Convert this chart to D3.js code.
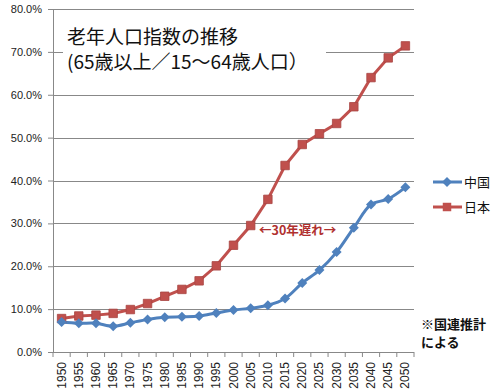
<!DOCTYPE html>
<html>
<head>
<meta charset="utf-8">
<script src="https://cdn.jsdelivr.net/npm/d3@7"></script>
<style>
body { margin: 0; background: #fff; }
svg { display: block; }
</style>
</head>
<body>
<div id="chart"></div>
<script>
var years = [1950, 1955, 1960, 1965, 1970, 1975, 1980, 1985, 1990, 1995, 2000,
             2005, 2010, 2015, 2020, 2025, 2030, 2035, 2040, 2045, 2050];
var china = [7.0, 6.7, 6.7, 6.0, 6.8, 7.6, 8.1, 8.2, 8.4, 9.1, 9.8,
             10.2, 10.9, 12.5, 16.1, 19.1, 23.3, 29.0, 34.4, 35.7, 38.4];
var japan = [7.8, 8.4, 8.6, 9.0, 9.9, 11.3, 13.0, 14.6, 16.6, 20.1, 24.9,
             29.5, 35.6, 43.5, 48.4, 50.9, 53.3, 57.2, 64.0, 68.6, 71.4];
var yTicks = [0, 10, 20, 30, 40, 50, 60, 70, 80];
var seriesNames = ['中国', '日本'];
var titleLines = ['老年人口指数の推移', '(65歳以上／15～64歳人口）'];

var W = 491, H = 391;
var pLeft = 53, pRight = 414, pTop = 9, pBottom = 352;
var blue = '#4F81BD', red = '#C0504D', grid = '#888';

var svg = d3.select('#chart').append('svg')
    .attr('width', W)
    .attr('height', H);

var x = d3.scaleBand().domain(years).range([pLeft, pRight]);
var y = d3.scaleLinear().domain([0, 80]).range([pBottom, pTop]);

// gridlines
svg.append('g')
    .selectAll('line')
    .data(yTicks.slice(1))
    .enter().append('line')
        .attr('x1', pLeft).attr('x2', pRight)
        .attr('y1', d => Math.round(y(d)) + 0.5).attr('y2', d => Math.round(y(d)) + 0.5)
        .attr('stroke', grid).attr('stroke-width', 1);

// y axis
var yAxis = svg.append('g')
    .attr('transform', 'translate(' + pLeft + ',0)')
    .call(d3.axisLeft(y).tickValues(yTicks).tickSize(5).tickPadding(6)
        .tickFormat(d => d.toFixed(1) + '%'));
yAxis.select('.domain').attr('stroke', grid);
yAxis.selectAll('.tick line').attr('stroke', grid);
yAxis.selectAll('text')
    .attr('font-family', 'Liberation Sans, Arial, sans-serif')
    .attr('font-size', 11).attr('fill', '#222');

// x axis: ticks at category boundaries
var xa = svg.append('g').attr('class', 'xaxis');
xa.append('line')
    .attr('x1', pLeft).attr('x2', pRight)
    .attr('y1', pBottom + 0.5).attr('y2', pBottom + 0.5)
    .attr('stroke', grid);
xa.selectAll('line.tk')
    .data(years.concat(['end']))
    .enter().append('line')
        .attr('class', 'tk')
        .attr('x1', d => d === 'end' ? pRight : x(d))
        .attr('x2', d => d === 'end' ? pRight : x(d))
        .attr('y1', pBottom).attr('y2', pBottom + 5)
        .attr('stroke', grid);
xa.selectAll('text')
    .data(years)
    .enter().append('text')
        .attr('transform', d => 'translate(' + (x(d) + x.bandwidth() / 2 + 4) + ',' + (pBottom + 10) + ') rotate(-90)')
        .attr('text-anchor', 'end')
        .attr('font-family', 'Liberation Sans, Arial, sans-serif')
        .attr('font-size', 12).attr('fill', '#222')
        .text(d => d);

var cx = d => x(d) + x.bandwidth() / 2;

// title box
svg.append('rect')
    .attr('x', 63).attr('y', 16).attr('width', 263).attr('height', 62)
    .attr('fill', '#fff');
svg.append('g').selectAll('text')
    .data(titleLines)
    .enter().append('text')
        .attr('x', 67)
        .attr('y', (d, i) => 44 + i * 25)
        .attr('font-family', 'Noto Sans CJK JP, sans-serif')
        .attr('font-size', 19).attr('fill', '#111')
        .text(d => d);

// lines
var lineJ = d3.line().x((d, i) => cx(years[i])).y(d => y(d));
var lineC = d3.line().x((d, i) => cx(years[i])).y(d => y(d)).curve(d3.curveCatmullRom);

svg.append('path').datum(japan)
    .attr('d', lineJ).attr('fill', 'none')
    .attr('stroke', red).attr('stroke-width', 3);
svg.append('path').datum(china)
    .attr('d', lineC).attr('fill', 'none')
    .attr('stroke', blue).attr('stroke-width', 3);

var square = d3.symbol().type(d3.symbolSquare).size(72);
var diamond = function (s) {
    return 'M0,' + (-s) + 'L' + s + ',0L0,' + s + 'L' + (-s) + ',0Z';
};

svg.append('g').selectAll('path')
    .data(japan)
    .enter().append('path')
        .attr('d', square)
        .attr('transform', (d, i) => 'translate(' + cx(years[i]) + ',' + y(d) + ')')
        .attr('fill', red).attr('stroke', '#a84542').attr('stroke-width', 0.8);

svg.append('g').selectAll('path')
    .data(china)
    .enter().append('path')
        .attr('d', diamond(5))
        .attr('transform', (d, i) => 'translate(' + cx(years[i]) + ',' + y(d) + ')')
        .attr('fill', blue);

// legend
var leg = svg.append('g');
var legY = [182, 207];
[blue, red].forEach(function (c, i) {
    leg.append('line')
        .attr('x1', 433).attr('x2', 462)
        .attr('y1', legY[i]).attr('y2', legY[i])
        .attr('stroke', c).attr('stroke-width', 3);
    leg.append('path')
        .attr('d', i === 0 ? diamond(5) : square)
        .attr('transform', 'translate(447,' + legY[i] + ')')
        .attr('fill', c);
    leg.append('text')
        .attr('x', 464).attr('y', legY[i] + 4.5)
        .attr('font-family', 'Noto Sans CJK JP, sans-serif')
        .attr('font-size', 13).attr('fill', '#111')
        .text(seriesNames[i]);
});

// annotation
svg.append('text')
    .attr('x', 259).attr('y', 235)
    .attr('font-family', 'Noto Sans CJK JP, sans-serif')
    .attr('font-size', 12.5).attr('font-weight', 'bold')
    .attr('fill', '#b0302f')
    .text('←30年遅れ→');

svg.append('g').selectAll('text')
    .data(['※国連推計', 'による'])
    .enter().append('text')
        .attr('x', 421)
        .attr('y', (d, i) => 329 + i * 18)
        .attr('font-family', 'Noto Sans CJK JP, sans-serif')
        .attr('font-size', 13).attr('font-weight', 'bold')
        .attr('fill', '#111')
        .text(d => d);
</script>
</body>
</html>
